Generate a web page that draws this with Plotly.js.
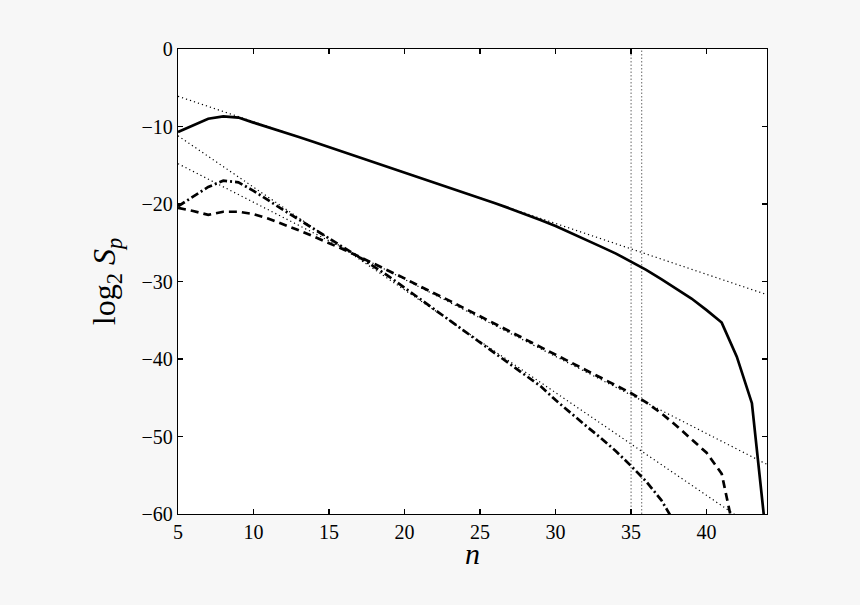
<!DOCTYPE html>
<html>
<head>
<meta charset="utf-8">
<script src="https://cdn.plot.ly/plotly-3.0.1.min.js"></script>
<style>
  html, body { margin: 0; padding: 0; background: #f7f7f7; }
  #chart { width: 860px; height: 605px; }
</style>
</head>
<body>
<div id="chart"></div>
<script>
// ---- data ----
const n = [5,6,7,8,9,10,11,12,13,14,15,16,17,18,19,20,21,22,23,24,25,26,27,28,29,30,31,32,33,34,35,36,37,38,39,40,41,42,43,44];

const solidSp = [-10.7,-9.8,-9.0,-8.7,-8.85,-9.5,-10.1,-10.7,-11.35,-12.0,-12.65,-13.3,-13.95,-14.6,-15.25,-15.9,-16.55,-17.2,-17.85,-18.5,-19.2,-19.9,-20.6,-21.3,-22.05,-22.85,-23.7,-24.6,-25.5,-26.4,-27.4,-28.5,-29.7,-30.9,-32.2,-33.7,-35.3,-39.7,-45.7,-64];

const nDashed = [5,6,7,8,9,10,11,12,13,14,15,16,17,18,19,20,21,22,23,24,25,26,27,28,29,30,31,32,33,34,35,36,37,38,39,40,41,42];
const dashedSp = [-20.5,-20.9,-21.4,-21.0,-21.0,-21.3,-21.9,-22.6,-23.4,-24.2,-25.0,-25.9,-26.8,-27.7,-28.6,-29.6,-30.6,-31.5,-32.5,-33.5,-34.5,-35.4,-36.4,-37.4,-38.4,-39.4,-40.4,-41.4,-42.4,-43.4,-44.4,-45.6,-47.0,-48.6,-50.3,-52.1,-54.8,-64];

const nDashDot = [5,6,7,8,9,10,11,12,13,14,15,16,17,18,19,20,21,22,23,24,25,26,27,28,29,30,31,32,33,34,35,36,37,38];
const dashDotSp = [-20.3,-19.0,-17.8,-17.0,-17.2,-18.3,-19.6,-20.8,-22.0,-23.2,-24.4,-25.6,-26.8,-28.1,-29.4,-30.8,-32.2,-33.6,-35.0,-36.4,-37.8,-39.2,-40.6,-42.0,-43.5,-45.3,-47.0,-48.6,-50.2,-51.9,-53.8,-55.8,-58.2,-61.5];

// straight dotted reference (fit) lines: end points
const fitN = [5, 44];
const fit1 = [-6.1, -31.7];
const fit2 = [-11.2, -62.9];
const fit3 = [-14.8, -53.6];

// vertical dotted markers
const vLineN = [35, 35.7];
const vLineY = [-60, 0];

const xTicks = [5,10,15,20,25,30,35,40];
const yTicks = [0,-10,-20,-30,-40,-50,-60];

const xTitle = '<i>n</i>';
const yTitle = 'log<sub>2</sub> <i>S<sub>p</sub></i>';

const serif = 'Liberation Serif';

// ---- traces ----
const fitStyle = {color: '#000', width: 1.2, dash: '1.2px,3px'};
const vStyle = {color: '#808080', width: 1.2, dash: '1.5px,2px'};
const traces = [
  {x: fitN, y: fit1, mode: 'lines', line: fitStyle, hoverinfo: 'skip'},
  {x: fitN, y: fit2, mode: 'lines', line: fitStyle, hoverinfo: 'skip'},
  {x: fitN, y: fit3, mode: 'lines', line: fitStyle, hoverinfo: 'skip'},
  {x: [vLineN[0], vLineN[0]], y: vLineY, mode: 'lines', line: vStyle, hoverinfo: 'skip'},
  {x: [vLineN[1], vLineN[1]], y: vLineY, mode: 'lines', line: vStyle, hoverinfo: 'skip'},
  {x: n, y: solidSp, mode: 'lines', line: {color: '#000', width: 2.7}},
  {x: nDashed, y: dashedSp, mode: 'lines', line: {color: '#000', width: 2.7, dash: '8px,5px'}},
  {x: nDashDot, y: dashDotSp, mode: 'lines', line: {color: '#000', width: 2.7, dash: '8px,3px,2px,3px'}}
];

const axisCommon = {
  showline: true, linecolor: '#000', linewidth: 1.3, mirror: 'ticks',
  ticks: 'inside', ticklen: 5, tickwidth: 1.2, tickcolor: '#000',
  showgrid: false, zeroline: false,
  tickfont: {family: serif, size: 20, color: '#000'}
};

const layout = {
  width: 860, height: 605,
  font: {family: serif, color: '#000'},
  paper_bgcolor: '#f7f7f7', plot_bgcolor: '#ffffff',
  margin: {l: 178, r: 93, t: 49, b: 91},
  showlegend: false,
  xaxis: Object.assign({}, axisCommon, {
    range: [5, 44], tickmode: 'array', tickvals: xTicks, ticktext: xTicks.map(String)
  }),
  yaxis: Object.assign({}, axisCommon, {
    range: [-60, 0], tickmode: 'array', tickvals: yTicks,
    title: {text: yTitle, font: {family: serif, size: 32, color: '#000'}, standoff: 16}
  }),
  annotations: [
    {text: xTitle, xref: 'paper', yref: 'paper', x: 0.5, y: -0.084,
     xanchor: 'center', yanchor: 'middle', showarrow: false,
     font: {family: serif, size: 30, color: '#000'}}
  ]
};

Plotly.newPlot('chart', traces, layout, {staticPlot: true, displayModeBar: false});
</script>
</body>
</html>
